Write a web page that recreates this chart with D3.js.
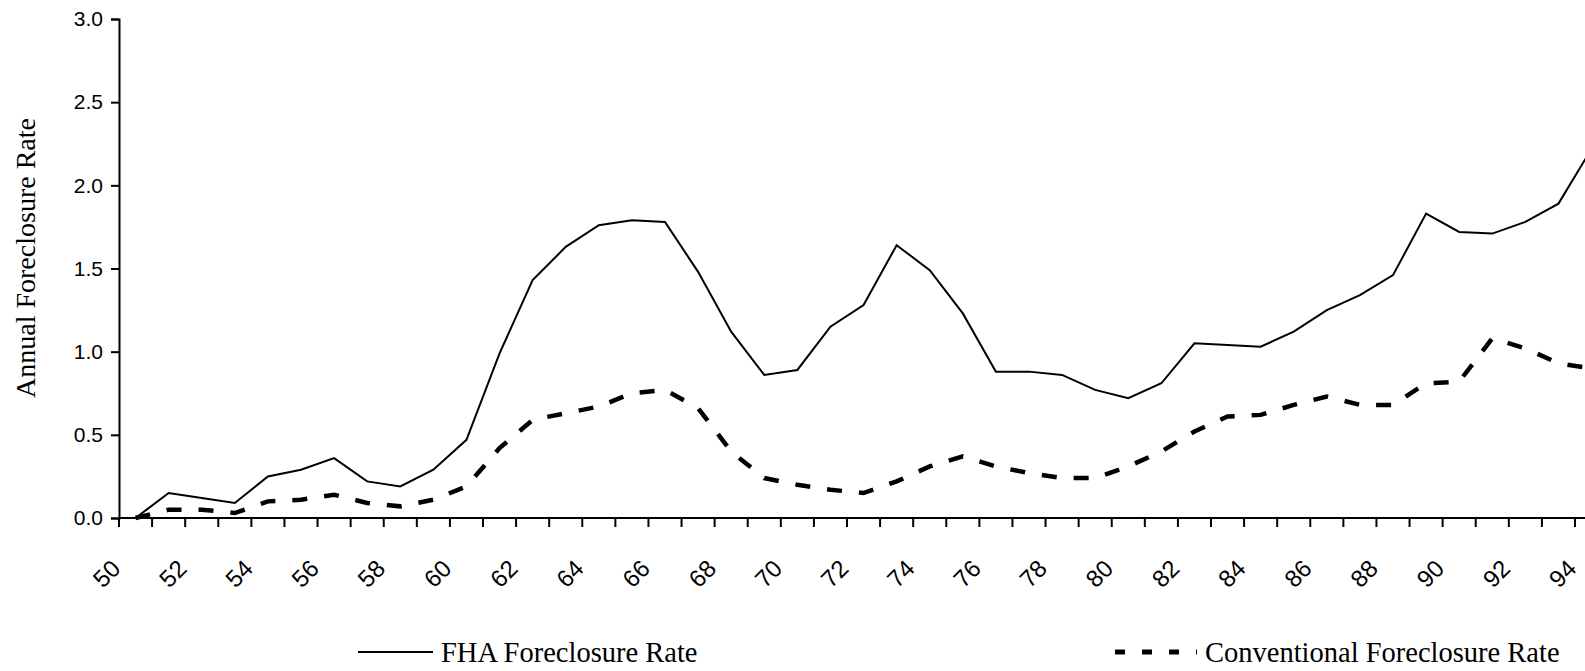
<!DOCTYPE html>
<html>
<head>
<meta charset="utf-8">
<script src="https://cdn.jsdelivr.net/npm/d3@7"></script>
<style>
  body { margin: 0; background: #fff; }
  svg { display: block; }
</style>
</head>
<body>
<svg width="1585" height="671"></svg>
<script>
// Data (years 1950-1994, one value a year, plotted mid-interval)
var years = d3.range(50, 95);
var fha = [0.00, 0.15, 0.12, 0.09, 0.25, 0.29, 0.36, 0.22, 0.19, 0.29,
           0.47, 0.99, 1.43, 1.63, 1.76, 1.79, 1.78, 1.48, 1.12, 0.86,
           0.89, 1.15, 1.28, 1.64, 1.49, 1.23, 0.88, 0.88, 0.86, 0.77,
           0.72, 0.81, 1.05, 1.04, 1.03, 1.12, 1.25, 1.34, 1.46, 1.83,
           1.72, 1.71, 1.78, 1.89, 2.22];
var conv = [0.00, 0.05, 0.05, 0.03, 0.10, 0.11, 0.14, 0.09, 0.07, 0.11,
            0.19, 0.42, 0.59, 0.63, 0.67, 0.75, 0.77, 0.66, 0.40, 0.24,
            0.20, 0.17, 0.15, 0.22, 0.31, 0.37, 0.31, 0.27, 0.24, 0.24,
            0.31, 0.40, 0.52, 0.61, 0.62, 0.68, 0.73, 0.68, 0.68, 0.81,
            0.82, 1.08, 1.02, 0.93, 0.90];
var yTicks = [0, 0.5, 1.0, 1.5, 2.0, 2.5, 3.0];
var xLabels = d3.range(50, 95, 2);

var svg = d3.select('svg');
var m = {left: 119, top: 19, bottom: 518};
var sans = 'Liberation Sans, Arial, sans-serif';
var serif = 'Liberation Serif, Times New Roman, serif';

var x = d3.scaleLinear().domain([50, 94]).range([m.left, 1575]);
var y = d3.scaleLinear().domain([0, 3]).range([m.bottom, m.top]);

// y axis
var yAxis = d3.axisLeft(y).tickValues(yTicks).tickFormat(d3.format('.1f'))
  .tickSizeOuter(0).tickSize(8).tickPadding(8);
var gy = svg.append('g').attr('transform', 'translate(' + m.left + ',0)').call(yAxis);
gy.select('.domain').attr('stroke-width', 2);
gy.selectAll('line').attr('stroke-width', 2);
gy.selectAll('text').attr('font-family', sans)
  .attr('font-size', '21px').attr('fill', '#000');

// x axis: tick every year, labels every 2 years
var gx = svg.append('g').attr('transform', 'translate(0,' + m.bottom + ')');
gx.append('line').attr('x1', m.left).attr('x2', 1600)
  .attr('stroke', '#000').attr('stroke-width', 2);
gx.selectAll('line.tick').data(d3.range(50, 96)).enter().append('line')
  .attr('class', 'tick')
  .attr('x1', d => x(d)).attr('x2', d => x(d))
  .attr('y1', 0).attr('y2', 9)
  .attr('stroke', '#000').attr('stroke-width', 2);
gx.selectAll('text').data(xLabels).enter().append('text')
  .attr('transform', d => 'translate(' + (x(d) + 3) + ',52) rotate(-45)')
  .attr('text-anchor', 'end')
  .attr('font-family', sans)
  .attr('font-size', '24px')
  .text(d => d);

// y label
svg.append('text')
  .attr('transform', 'translate(35,258) rotate(-90)')
  .attr('text-anchor', 'middle')
  .attr('font-family', serif)
  .attr('font-size', '28px')
  .text('Annual Foreclosure Rate');

// lines
var line = d3.line().x((d, i) => x(years[i] + 0.5)).y(d => y(d));

svg.append('path').datum(fha)
  .attr('d', line).attr('fill', 'none')
  .attr('stroke', '#000').attr('stroke-width', 2);

svg.append('path').datum(conv)
  .attr('d', line).attr('fill', 'none')
  .attr('stroke', '#000').attr('stroke-width', 4.5)
  .attr('stroke-dasharray', '15,17');

// legend
var leg = [
  {label: 'FHA Foreclosure Rate', x1: 358, x2: 433, dash: null, w: 2},
  {label: 'Conventional Foreclosure Rate', x1: 1115, x2: 1197, dash: '10,17', w: 5}
];
var lg = svg.selectAll('g.leg').data(leg).enter().append('g').attr('class', 'leg');
lg.append('line')
  .attr('x1', d => d.x1).attr('x2', d => d.x2)
  .attr('y1', 652).attr('y2', 652)
  .attr('stroke', '#000').attr('stroke-width', d => d.w)
  .attr('stroke-dasharray', d => d.dash);
lg.append('text')
  .attr('x', d => d.x2 + 8).attr('y', 662)
  .attr('font-family', serif)
  .attr('font-size', '28.5px')
  .text(d => d.label);
</script>
</body>
</html>
